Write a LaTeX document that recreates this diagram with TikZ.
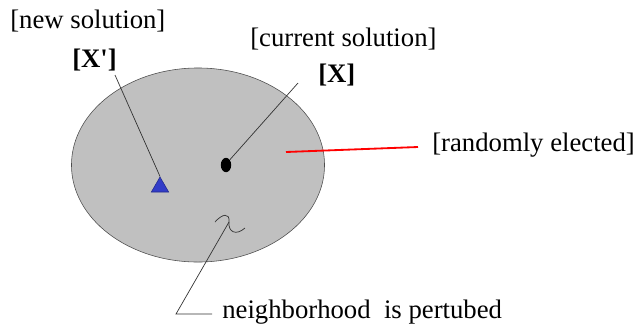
\documentclass[tikz,border=0pt]{standalone}
\usepackage{fontspec}
\setmainfont{Liberation Serif}
\usepackage{xcolor}
\usetikzlibrary{shapes.geometric,calc}
\definecolor{regiongray}{RGB}{192,192,192}
\definecolor{markblue}{RGB}{50,60,200}

\begin{document}
\begin{tikzpicture}[
  x=0.025cm, y=-0.025cm,
  lbl/.style={inner sep=0pt, anchor=base west, font=\fontsize{19}{21}\selectfont},
  tag/.style={inner sep=0pt, anchor=base west, font=\fontsize{19}{21}\selectfont\bfseries},
  lead/.style={draw=black!80, line width=0.5pt},
]
\useasboundingbox (0,0) rectangle (636,324);

% neighbourhood region
\node[ellipse, draw=black!70, fill=regiongray, minimum width=6.325cm, minimum height=4.85cm, inner sep=0pt] (region) at (198,165) {};

% solutions
\node[regular polygon, regular polygon sides=3, fill=markblue, draw=markblue!70!black, minimum size=0.5cm, inner sep=0pt] (newsol) at (160,187) {};
\node[ellipse, fill=black, minimum width=0.26cm, minimum height=0.36cm, inner sep=0pt] (cursol) at (226,165) {};

% labels
\node[lbl] (newlbl) at (10,28) {[new solution]};
\node[tag] (xnew) at (72,67) {[X\textquotesingle]};
\node[lbl] (curlbl) at (250,46) {[current solution]};
\node[tag] (xcur) at (318,82) {[X]};
\node[lbl] (randlbl) at (432,151) {[randomly elected]};
\node[lbl] (pertlbl) at (222,318) {neighborhood\hspace{0.5em}is pertubed};

% pointers
\coordinate (xnewfoot) at (115,75);
\coordinate (xcurfoot) at (298,83);
\coordinate (randin) at (286,152);
\coordinate (randout) at (418,147);
\coordinate (bend) at (176,314);
\coordinate (bendend) at (212,314);
\draw[lead] (xnewfoot) -- (newsol.corner 1);
\draw[lead] (xcurfoot) -- (cursol.north east);
\draw[red, line width=1.3pt] (randin) -- (randout);

% perturbation squiggle
\draw[lead] (215,222) .. controls (222,214) and (230,212) .. (229,222)
  coordinate (wig) .. controls (228,232) and (236,236) .. (245,228);
\draw[lead] (wig) -- (bend) -- (bendend);
\end{tikzpicture}
\end{document}
